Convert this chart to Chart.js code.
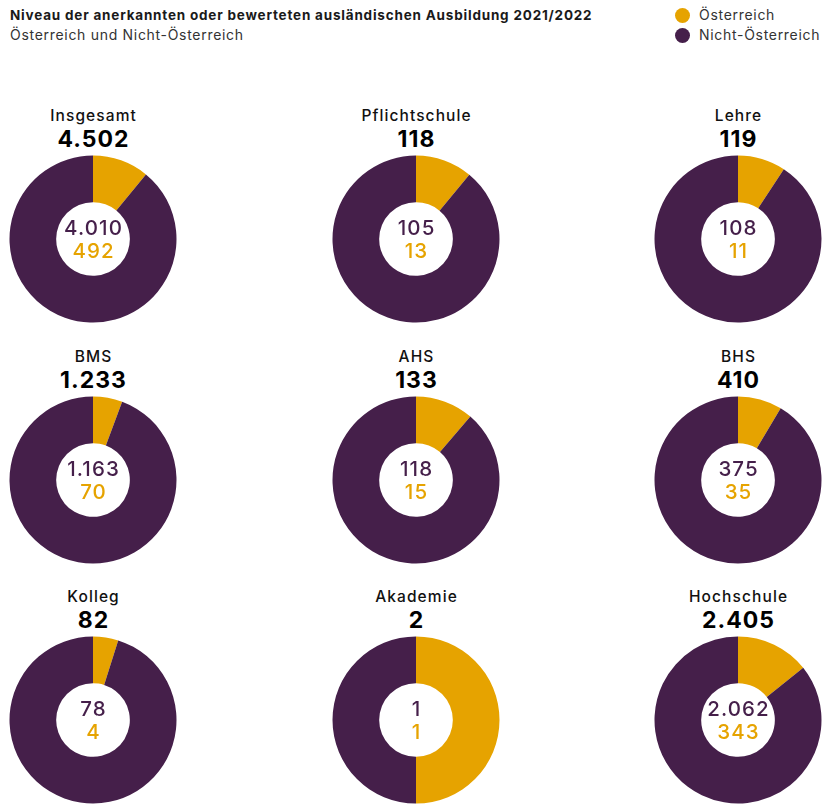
<!DOCTYPE html>
<html lang="de">
<head>
<meta charset="utf-8">
<script src="https://cdn.jsdelivr.net/npm/chart.js@4.4.1/dist/chart.umd.min.js"></script>
<style>
  body { margin: 0; background: #fff; font-family: Inter, "Noto Sans", sans-serif; }
  #page { position: relative; width: 824px; height: 806px; overflow: hidden; }
  .title { position: absolute; left: 10px; top: 7px; font-size: 13.5px; font-weight: 700; color: #1a1a1a; letter-spacing: 0.8px; }
  .subtitle { position: absolute; left: 10px; top: 26px; font-size: 14px; color: #333; letter-spacing: 0.7px; }
  .legend { position: absolute; left: 675px; top: 5px; font-size: 14px; color: #333; letter-spacing: 0.7px; }
  .legend div { height: 20px; line-height: 20px; display: flex; align-items: center; }
  .legend span.dot { width: 15px; height: 15px; border-radius: 50%; display: inline-block; margin-right: 9px; }
  .cell { position: absolute; width: 240px; height: 240px; }
  .cat { position: absolute; left: 0; width: 100%; text-align: center; top: 0; font-size: 15.5px; font-weight: 500; color: #111; letter-spacing: 1.1px; padding-left: 1.1px; box-sizing: border-box; }
  .total { position: absolute; left: 0; width: 100%; text-align: center; top: 19px; font-size: 23px; font-weight: 700; color: #000; letter-spacing: 1px; padding-left: 1px; box-sizing: border-box; }
  .cell canvas { position: absolute; }
  .inner { position: absolute; left: 0; width: 100%; text-align: center; font-size: 20.5px; font-weight: 500; line-height: 23px; letter-spacing: 1.1px; padding-left: 1.1px; box-sizing: border-box; }
</style>
</head>
<body>
<div id="page">
  <div class="title">Niveau der anerkannten oder bewerteten ausländischen Ausbildung 2021/2022</div>
  <div class="subtitle">Österreich und Nicht-Österreich</div>
  <div class="legend">
    <div><span class="dot" style="background:#E6A300"></span>Österreich</div>
    <div><span class="dot" style="background:#451F4A"></span>Nicht-Österreich</div>
  </div>
</div>
<script>
const categories = ['Insgesamt', 'Pflichtschule', 'Lehre', 'BMS', 'AHS', 'BHS', 'Kolleg', 'Akademie', 'Hochschule'];
const oesterreich = [492, 13, 11, 70, 15, 35, 4, 1, 343];
const nichtOesterreich = [4010, 105, 108, 1163, 118, 375, 78, 1, 2062];
const seriesLabels = ['Österreich', 'Nicht-Österreich'];

const ORANGE = '#E6A300';
const PURPLE = '#451F4A';

const colX = [93, 416, 738];
const rowY = [239, 480, 720];

// German thousands separator
function fmt(n) {
  return String(n).replace(/\B(?=(\d{3})+(?!\d))/g, '.');
}

const page = document.getElementById('page');

categories.forEach((cat, i) => {
  const cx = colX[i % 3];
  const cy = rowY[Math.floor(i / 3)];
  const total = oesterreich[i] + nichtOesterreich[i];

  const cell = document.createElement('div');
  cell.className = 'cell';
  cell.style.left = (cx - 120) + 'px';
  cell.style.top = (cy - 133) + 'px';
  cell.innerHTML = `<div class="cat">${cat}</div><div class="total">${fmt(total)}</div>`;

  const size = 170;
  const canvas = document.createElement('canvas');
  canvas.width = size;
  canvas.height = size;
  canvas.style.left = (120 - size / 2) + 'px';
  canvas.style.top = (133 - size / 2) + 'px';
  cell.appendChild(canvas);

  const inner = document.createElement('div');
  inner.className = 'inner';
  inner.style.top = (133 - 23) + 'px';
  inner.innerHTML = `<div style="color:${PURPLE}">${fmt(nichtOesterreich[i])}</div><div style="color:${ORANGE}">${fmt(oesterreich[i])}</div>`;
  cell.appendChild(inner);

  page.appendChild(cell);

  new Chart(canvas.getContext('2d'), {
    type: 'doughnut',
    data: {
      labels: seriesLabels,
      datasets: [{
        data: [oesterreich[i], nichtOesterreich[i]],
        backgroundColor: [ORANGE, PURPLE],
        borderWidth: 0,
        radius: 83.5,
        cutout: 37.5
      }]
    },
    options: {
      responsive: false,
      animation: false,
      events: [],
      plugins: {
        legend: { display: false },
        tooltip: { enabled: false }
      }
    }
  });
});
</script>
</body>
</html>
